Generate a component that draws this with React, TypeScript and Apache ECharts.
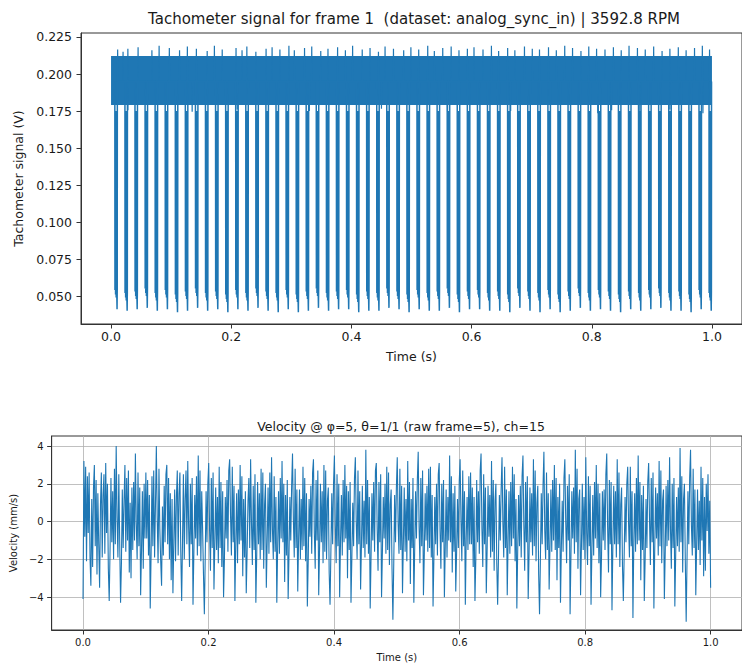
import React, { useEffect, useRef } from 'react';
import * as echarts from 'echarts';

const topTitle = 'Tachometer signal for frame 1  (dataset: analog_sync_in) | 3592.8 RPM';
const bottomTitle = 'Velocity @ φ=5, θ=1/1 (raw frame=5), ch=15';
const timeLabel = 'Time (s)';
const tachoLabel = 'Tachometer signal (V)';
const velocityLabel = 'Velocity (mm/s)';

const xTicks = [0, 0.2, 0.4, 0.6, 0.8, 1.0];
const topYTicks = [0.05, 0.075, 0.1, 0.125, 0.15, 0.175, 0.2, 0.225];
const bottomYTicks = [-4, -2, 0, 2, 4];

// tachometer: high-state noise band (start, end, low, high)
const bandStart = 0.0;
const bandEnd = 1.0;
const bandLow = 0.179;
const bandHigh = 0.2122;
const bandMid = 0.195;

// tachometer pulses (time of each low pulse, bottom of thick part, thin tail)
const pulseTimes = [
  0.0085, 0.0253, 0.042, 0.0588, 0.0755, 0.0923, 0.1091, 0.1258, 0.1426, 0.1593,
  0.1761, 0.1929, 0.2096, 0.2264, 0.2431, 0.2599, 0.2767, 0.2934, 0.3102, 0.3269,
  0.3437, 0.3605, 0.3772, 0.394, 0.4107, 0.4275, 0.4443, 0.461, 0.4778, 0.4945,
  0.5113, 0.5281, 0.5448, 0.5616, 0.5783, 0.5951, 0.6119, 0.6286, 0.6454, 0.6621,
  0.6789, 0.6957, 0.7124, 0.7292, 0.7459, 0.7627, 0.7795, 0.7962, 0.813, 0.8297,
  0.8465, 0.8633, 0.88, 0.8968, 0.9135, 0.9303, 0.9471, 0.9638, 0.9806, 0.9973,
];
const pulseFloor = [
  0.049, 0.047, 0.048, 0.05, 0.047, 0.049, 0.046, 0.048, 0.05, 0.047,
  0.048, 0.046, 0.049, 0.047, 0.05, 0.048, 0.047, 0.049, 0.046, 0.048,
  0.05, 0.047, 0.048, 0.049, 0.046, 0.048, 0.047, 0.05, 0.048, 0.046,
  0.049, 0.047, 0.048, 0.05, 0.046, 0.048, 0.049, 0.047, 0.048, 0.046,
  0.05, 0.048, 0.047, 0.049, 0.046, 0.048, 0.05, 0.047, 0.049, 0.048,
  0.046, 0.048, 0.047, 0.049, 0.05, 0.047, 0.048, 0.046, 0.049, 0.047,
];
const pulseTail = [
  0.041, 0.04, 0.041, 0.042, 0.04, 0.041, 0.039, 0.04, 0.042, 0.04,
  0.041, 0.039, 0.041, 0.04, 0.042, 0.04, 0.039, 0.041, 0.039, 0.04,
  0.042, 0.04, 0.041, 0.041, 0.039, 0.04, 0.04, 0.042, 0.041, 0.039,
  0.041, 0.04, 0.04, 0.042, 0.039, 0.041, 0.041, 0.04, 0.04, 0.039,
  0.042, 0.04, 0.039, 0.041, 0.039, 0.04, 0.042, 0.04, 0.041, 0.04,
  0.039, 0.041, 0.04, 0.041, 0.042, 0.04, 0.04, 0.039, 0.041, 0.04,
];

// short excursions out of the noise band
const upperSpikeTimes = [
  0.011, 0.02, 0.028, 0.045, 0.068, 0.08, 0.097, 0.114, 0.127, 0.142,
  0.16, 0.172, 0.185, 0.208, 0.218, 0.226, 0.241, 0.258, 0.268, 0.281,
  0.296, 0.305, 0.322, 0.334, 0.349, 0.361, 0.377, 0.39, 0.402, 0.418,
  0.431, 0.445, 0.456, 0.47, 0.487, 0.499, 0.512, 0.527, 0.538, 0.552,
  0.566, 0.579, 0.593, 0.604, 0.619, 0.633, 0.645, 0.66, 0.672, 0.688,
  0.701, 0.713, 0.728, 0.741, 0.755, 0.768, 0.782, 0.795, 0.808, 0.822,
  0.836, 0.849, 0.862, 0.876, 0.889, 0.903, 0.917, 0.93, 0.944, 0.957,
  0.971, 0.984, 0.996,
];
const upperSpikeValues = [
  0.2165, 0.2150, 0.2170, 0.2180, 0.2160, 0.2190, 0.2175, 0.2160, 0.2185, 0.2170,
  0.2155, 0.2190, 0.2165, 0.2175, 0.2160, 0.2185, 0.2150, 0.2170, 0.2180, 0.2165,
  0.2190, 0.2160, 0.2175, 0.2185, 0.2155, 0.2170, 0.2180, 0.2160, 0.2190, 0.2165,
  0.2175, 0.2150, 0.2185, 0.2170, 0.2160, 0.2180, 0.2165, 0.2190, 0.2155, 0.2175,
  0.2185, 0.2160, 0.2170, 0.2180, 0.2165, 0.2190, 0.2155, 0.2175, 0.2160, 0.2185,
  0.2170, 0.2165, 0.2180, 0.2160, 0.2190, 0.2175, 0.2155, 0.2185, 0.2170, 0.2165,
  0.2180, 0.2160, 0.2190, 0.2175, 0.2165, 0.2185, 0.2155, 0.2170, 0.2180, 0.2160,
  0.2175, 0.2190, 0.2165,
];
const lowerSpikeTimes = [0.028, 0.135, 0.21, 0.33, 0.45, 0.56, 0.665, 0.81, 0.833, 0.88, 0.93, 0.985];
const lowerSpikeValues = [0.1755, 0.1745, 0.176, 0.175, 0.1765, 0.1745, 0.175, 0.1735, 0.1755, 0.1745, 0.176, 0.1735];

// velocity samples, evenly spaced from 0 to 1 s
const velocity = [
  -4.1, 3.2, -0.8, 2.9, -2.1, 2.4, -0.6, 2.6, -1.9, -3.4, 1.2, -2.4,
  1.8, 3.0, -1.3, 2.2, -2.8, 1.5, -1.2, -3.5, 0.9, 2.6, -1.9, 1.4,
  2.5, -1.7, 3.1, -0.6, 2.0, -2.5, -4.2, -1.4, 2.3, -1.1, 1.6, -2.0,
  2.8, -1.2, 4.0, 0.2, -1.9, 2.5, -1.0, -4.3, -2.2, 1.7, -1.4, 1.1,
  3.0, -1.6, 2.3, -1.0, 2.7, -2.7, 1.0, -3.0, 1.8, -1.5, 2.1, -1.0,
  3.6, -0.1, -2.0, 2.6, -1.3, 1.8, -3.9, -1.5, 1.6, -2.5, 2.0, -0.9,
  2.6, -0.9, 2.2, -1.8, 1.4, -4.6, -1.7, 2.4, -1.3, 2.7, -1.9, 0.9,
  4.0, 0.2, -2.2, 2.8, -0.4, -2.1, -3.4, 0.8, -1.8, 1.9, -1.1, 2.5,
  3.0, -1.2, 2.3, -2.0, 1.5, -3.1, 1.2, -3.8, -1.1, 1.7, -2.1, 1.3,
  2.7, -1.8, 1.5, 2.6, -1.6, -4.2, -1.0, 2.5, -2.0, 1.2, 2.7, -1.2,
  3.2, -0.3, -2.4, 2.0, -1.2, 2.3, -4.4, -1.6, 1.4, -0.9, 2.4, -1.8,
  3.5, -1.3, 2.7, -2.1, 1.6, -0.4, -2.8, -4.9, -1.9, 1.6, -1.1, 2.0,
  3.1, -0.5, -2.6, 2.3, -1.4, 2.6, -3.6, -1.2, 1.8, -1.5, 1.3, -2.2,
  2.9, -1.4, 2.1, -2.4, 1.6, -4.0, -2.0, 1.3, -0.9, 2.2, -1.6, 2.7,
  3.3, 0.3, -1.8, 2.9, -1.1, 1.9, -4.2, -1.1, 1.5, -2.2, 1.7, -1.2,
  3.0, -1.0, 2.4, -2.9, 1.2, -1.9, 1.6, -3.8, -1.6, 1.1, 2.3, -1.4,
  3.3, -0.1, -2.3, 1.9, -1.5, 2.5, -4.3, -1.8, 2.1, -1.2, 1.5, -2.0,
  2.8, -1.5, 2.6, -2.5, 0.9, 2.0, -3.5, -1.0, 1.8, -1.7, 2.6, -1.1,
  3.4, -0.4, -2.0, 2.4, -1.6, 1.3, -4.3, -1.3, 1.6, -1.7, 2.3, -0.9,
  3.2, -1.1, 2.0, -3.2, 1.4, -1.8, 2.2, -4.1, -1.7, 1.3, -1.0, 1.9,
  3.6, 0.1, -1.9, 2.8, -1.4, 1.7, -3.7, -0.9, 1.7, -2.0, 1.2, -1.5,
  2.9, -1.3, 2.3, -2.1, 1.5, -4.5, -2.1, 1.2, -0.8, 1.9, -1.7, 2.6,
  3.3, -0.6, -2.5, 2.2, -1.0, 2.7, -3.9, -1.4, 2.0, -1.1, 1.6, -2.2,
  3.0, -1.6, 2.7, -2.0, 1.1, 1.8, -2.7, -4.4, -1.5, 1.5, -1.2, 2.0,
  3.5, -0.2, -2.2, 2.5, -1.3, 2.0, -4.0, -1.0, 1.4, -1.8, 2.2, -1.1,
  3.0, -0.9, 1.9, -3.0, 1.6, -1.5, 2.1, -4.3, -1.9, 1.0, -1.3, 2.3,
  3.4, 0.0, -2.0, 2.7, -1.2, 1.6, -3.6, -1.2, 1.9, -1.4, 1.1, -1.9,
  3.8, -1.2, 2.2, -1.7, 1.3, -4.6, -1.8, 1.5, -1.0, 2.1, -1.6, 2.7,
  3.1, -0.4, -2.6, 2.1, -1.1, 2.5, -4.0, -1.6, 1.3, -0.9, 2.0, -1.7,
  2.9, -1.5, 2.6, -2.3, 0.9, 1.7, -2.5, -5.2, -2.2, 1.4, -1.1, 1.8,
  3.4, -0.1, -1.7, 2.8, -1.5, 1.9, -3.8, -1.1, 1.8, -1.6, 1.2, -2.1,
  3.2, -1.0, 2.1, -3.3, 1.2, -1.4, 2.3, -4.3, -1.4, 1.6, -0.9, 2.2,
  3.7, -0.3, -2.2, 2.3, -1.3, 2.7, -3.9, -1.7, 1.5, -1.0, 1.9, -1.6,
  2.8, -1.4, 2.9, -1.9, 1.4, -4.5, -1.9, 1.3, -1.2, 2.0, -1.8, 2.5,
  3.1, -0.5, -2.5, 2.0, -1.1, 2.2, -4.0, -1.3, 1.7, -1.9, 1.3, -1.0,
  3.5, -1.1, 2.4, -2.7, 1.5, -1.6, 1.9, -3.7, -1.6, 1.2, -1.4, 2.1,
  3.3, 0.1, -2.1, 2.7, -1.3, 1.6, -4.4, -0.9, 1.3, -1.5, 2.4, -1.2,
  2.6, -1.2, 1.8, -2.4, 1.3, -4.2, -2.0, 2.2, -1.1, 1.6, -1.7, 2.7,
  3.6, -0.4, -2.4, 2.5, -1.2, 1.8, -3.8, -1.4, 1.9, -0.8, 1.4, -1.9,
  3.2, -1.6, 2.2, -2.6, 1.1, 2.0, -2.2, -4.4, -1.8, 1.4, -1.0, 1.7,
  3.4, -0.1, -1.9, 2.9, -1.4, 1.7, -3.9, -1.0, 1.6, -1.7, 2.1, -1.3,
  2.9, -0.9, 2.5, -2.1, 1.2, -4.6, -1.5, 1.4, -1.3, 1.9, -1.9, 2.4,
  3.5, -0.2, -2.6, 2.1, -1.1, 2.4, -4.1, -1.7, 1.8, -1.1, 1.5, -1.8,
  3.3, -1.3, 2.7, -2.1, 1.0, 1.9, -2.8, -4.9, -2.0, 1.5, -1.2, 1.9,
  3.7, -0.5, -2.0, 2.6, -1.5, 1.5, -3.6, -1.2, 1.7, -1.6, 2.2, -1.0,
  3.0, -1.5, 2.3, -3.1, 1.3, -1.4, 2.0, -4.3, -1.4, 1.1, -1.6, 2.3,
  3.3, 0.0, -2.2, 1.9, -1.0, 2.5, -4.9, -1.8, 1.6, -0.9, 1.8, -1.7,
  3.8, -1.1, 2.8, -2.5, 1.2, 1.7, -3.9, -1.3, 2.0, -1.5, 1.3, -2.0,
  3.4, -0.6, -2.3, 2.4, -1.3, 1.9, -4.4, -1.5, 1.4, -1.8, 2.1, -0.9,
  3.0, -1.4, 2.0, -2.2, 1.5, -4.0, -1.9, 1.6, -1.0, 1.7, -1.5, 2.5,
  3.6, -0.3, -2.7, 2.2, -1.2, 2.1, -4.7, -1.3, 1.9, -1.2, 1.6, -1.9,
  3.3, -1.2, 2.6, -2.4, 0.9, 1.8, -2.3, -4.2, -1.7, 1.3, -1.1, 2.0,
  2.9, -0.1, -1.9, 2.9, -1.3, 1.6, -5.1, -1.1, 1.5, -1.6, 2.3, -1.2,
  3.5, -1.0, 2.1, -3.1, 1.4, -1.5, 1.9, -4.2, -2.0, 1.2, -1.4, 2.1,
  3.1, 0.1, -2.3, 2.3, -1.1, 2.6, -4.6, -1.4, 1.8, -0.9, 1.5, -1.8,
  3.2, -1.3, 2.7, -2.2, 1.1, 1.7, -4.1, -1.6, 1.9, -1.3, 2.2, -1.0,
  3.4, -0.4, -2.5, 2.0, -1.4, 2.3, -4.5, -1.7, 1.3, -1.3, 1.8, -1.6,
  3.9, -1.1, 2.4, -2.7, 1.2, 2.0, -2.1, -5.3, -1.9, 1.6, -1.2, 2.3,
  3.8, -0.2, -1.8, 2.8, -1.4, 1.7, -3.9, -1.2, 1.7, -1.5, 1.1, -2.3,
  2.9, -1.0, 2.3, -2.9, 1.3, -2.6, 2.0, -0.5, 2.5, -1.7, 1.1, -3.5,
];
const velocityStart = 0;
const velocityEnd = 1.0;

const BLUE = '#1f77b4';
const FONT = 'DejaVu Sans';
const INK = '#1a1a1a';
const SPINE = '#333333';

function buildPulseLine(): number[][] {
  const pts: number[][] = [];
  pulseTimes.forEach((t, i) => {
    const f = pulseFloor[i];
    const edge = bandLow - 0.004;
    pts.push(
      [t - 0.0022, bandMid],
      [t - 0.002, f + 0.005],
      [t - 0.0015, edge],
      [t - 0.001, f + 0.002],
      [t - 0.0005, edge],
      [t, f],
      [t + 0.0005, edge],
      [t + 0.001, f + 0.003],
      [t + 0.0015, pulseTail[i]],
      [t + 0.0018, f + 0.006],
      [t + 0.002, bandMid]
    );
  });
  return pts;
}

function buildSpikeLine(): number[][] {
  const ev: { t: number; v: number }[] = [];
  upperSpikeTimes.forEach((t, i) => ev.push({ t, v: upperSpikeValues[i] }));
  lowerSpikeTimes.forEach((t, i) => ev.push({ t, v: lowerSpikeValues[i] }));
  ev.sort((a, b) => a.t - b.t);
  const pts: number[][] = [];
  ev.forEach((e) => {
    pts.push([e.t - 0.0004, bandMid], [e.t, e.v], [e.t + 0.0004, bandMid]);
  });
  return pts;
}

function fmtMinus(v: number): string {
  return v < 0 ? '\u2212' + String(Math.abs(v)) : String(v);
}

export default function App() {
  const ref = useRef<HTMLDivElement>(null);
  useEffect(() => {
    if (!ref.current) return;
    const chart = echarts.init(ref.current, undefined, { renderer: 'svg' });
    const n = velocity.length;
    const velData = velocity.map((v, i) => [velocityStart + ((velocityEnd - velocityStart) * i) / (n - 1), v]);

    const axisCommon = {
      type: 'value' as const,
      axisLine: { show: true, onZero: false, lineStyle: { color: SPINE, width: 1 } },
    };

    const option: any = {
      animation: false,
      backgroundColor: '#ffffff',
      graphic: [
        {
          type: 'text',
          x: 414,
          y: 19,
          style: { text: topTitle, align: 'center', verticalAlign: 'middle', fontFamily: FONT, fontSize: 15, fill: INK },
        },
        {
          type: 'text',
          x: 401,
          y: 426,
          style: { text: bottomTitle, align: 'center', verticalAlign: 'middle', fontFamily: FONT, fontSize: 12.5, fill: INK },
        },
      ],
      grid: [
        { left: 81, top: 33, width: 665, height: 291, show: true, borderColor: SPINE, borderWidth: 1, containLabel: false },
        { left: 51, top: 436, width: 701, height: 194, show: true, borderColor: SPINE, borderWidth: 1, containLabel: false },
      ],
      xAxis: [
        {
          ...axisCommon,
          gridIndex: 0,
          min: -0.05,
          max: 1.05,
          axisTick: { show: true, length: 4.5, customValues: xTicks, lineStyle: { color: SPINE } },
          axisLabel: { customValues: xTicks, formatter: (v: number) => v.toFixed(1), fontFamily: FONT, fontSize: 12.5, color: INK, margin: 6 },
          splitLine: { show: false },
          name: timeLabel,
          nameLocation: 'middle',
          nameGap: 26,
          nameTextStyle: { fontFamily: FONT, fontSize: 12.5, color: INK },
        },
        {
          ...axisCommon,
          gridIndex: 1,
          min: -0.05,
          max: 1.05,
          axisTick: { show: true, length: 4.5, customValues: xTicks, lineStyle: { color: SPINE } },
          axisLabel: { customValues: xTicks, formatter: (v: number) => v.toFixed(1), fontFamily: FONT, fontSize: 10, color: INK, margin: 7 },
          splitLine: { show: true, lineStyle: { color: '#b0b0b0', width: 0.8 } },
          name: timeLabel,
          nameLocation: 'middle',
          nameGap: 22,
          nameTextStyle: { fontFamily: FONT, fontSize: 10, color: INK },
        },
      ],
      yAxis: [
        {
          ...axisCommon,
          gridIndex: 0,
          min: 0.0311,
          max: 0.2277,
          axisTick: { show: true, length: 4.5, customValues: topYTicks, lineStyle: { color: SPINE } },
          axisLabel: { customValues: topYTicks, formatter: (v: number) => v.toFixed(3), fontFamily: FONT, fontSize: 12.5, color: INK, margin: 9 },
          splitLine: { show: false },
          name: tachoLabel,
          nameLocation: 'middle',
          nameGap: 54,
          nameTextStyle: { fontFamily: FONT, fontSize: 12.5, color: INK },
        },
        {
          ...axisCommon,
          gridIndex: 1,
          min: -5.74,
          max: 4.53,
          axisTick: { show: true, length: 4.5, customValues: bottomYTicks, lineStyle: { color: SPINE } },
          axisLabel: { customValues: bottomYTicks, formatter: fmtMinus, fontFamily: FONT, fontSize: 10, color: INK, margin: 8 },
          splitLine: { show: true, lineStyle: { color: '#b0b0b0', width: 0.8 } },
          name: velocityLabel,
          nameLocation: 'middle',
          nameGap: 29,
          nameTextStyle: { fontFamily: FONT, fontSize: 10, color: INK },
        },
      ],
      series: [
        {
          type: 'line',
          xAxisIndex: 0,
          yAxisIndex: 0,
          data: buildPulseLine(),
          showSymbol: false,
          symbol: 'none',
          lineStyle: { color: BLUE, width: 1.5 },
          silent: true,
          markArea: {
            silent: true,
            label: { show: false },
            itemStyle: { color: BLUE, opacity: 1 },
            data: [[{ coord: [bandStart, bandLow] }, { coord: [bandEnd, bandHigh] }]],
          },
        },
        {
          type: 'line',
          xAxisIndex: 0,
          yAxisIndex: 0,
          data: buildSpikeLine(),
          showSymbol: false,
          symbol: 'none',
          lineStyle: { color: BLUE, width: 1.2 },
          silent: true,
        },
        {
          type: 'line',
          xAxisIndex: 1,
          yAxisIndex: 1,
          data: velData,
          showSymbol: false,
          symbol: 'none',
          lineStyle: { color: BLUE, width: 1.1 },
          silent: true,
        },
      ],
    };
    chart.setOption(option);
    return () => chart.dispose();
  }, []);
  return (
    <div
      ref={ref}
      style={{ position: 'absolute', left: 0, top: 0, width: 742, height: 664, overflow: 'hidden', background: '#fff' }}
    />
  );
}
